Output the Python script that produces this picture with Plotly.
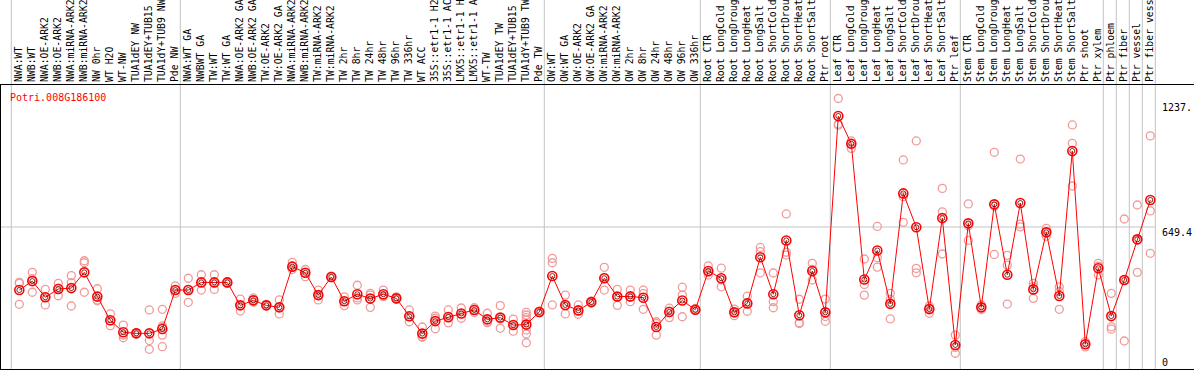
import plotly.graph_objects as go

categories = [
    "NWA:WT", "NWB:WT", "NWA:OE-ARK2", "NWB:OE-ARK2", "NWA:miRNA-ARK2", "NWB:miRNA-ARK2",
    "NW 0hr", "WT H2O", "WT-NW", "TUA1dEY NW", "TUA1dEY+TUB15", "TUA1dY+TUB9 NW", "Pde NW",
    "NWA:WT GA", "NWBWT GA", "TW:WT", "TW:WT GA", "NWA:OE-ARK2 GA", "NWB:OE-ARK2 GA",
    "TW:OE-ARK2", "TW:OE-ARK2 GA", "NWA:miRNA-ARK2", "NWB:miRNA-ARK2", "TW:miRNA-ARK2",
    "TW:miRNA-ARK2", "TW 2hr", "TW 8hr", "TW 24hr", "TW 48hr", "TW 96hr", "TW 336hr", "WT ACC",
    "35S::etr1-1 H2", "35S::etr1-1 AC", "LMX5::etr1-1 H", "LMX5::etr1-1 A", "WT-TW",
    "TUA1dEY TW", "TUA1dEY+TUB15", "TUA1dY+TUB9 TW", "Pde TW",
    "OW:WT", "OW:WT GA", "OW:OE-ARK2", "OW:OE-ARK2 GA", "OW:miRNA-ARK2", "OW:miRNA-ARK2",
    "OW 2hr", "OW 8hr", "OW 24hr", "OW 48hr", "OW 96hr", "OW 336hr",
    "Root CTR", "Root LongCold", "Root LongDroug", "Root LongHeat", "Root LongSalt",
    "Root ShortCold", "Root ShortDrou", "Root ShortHeat", "Root ShortSalt", "Ptr root",
    "Leaf CTR", "Leaf LongCold", "Leaf LongDroug", "Leaf LongHeat", "Leaf LongSalt",
    "Leaf ShortCold", "Leaf ShortDrou", "Leaf ShortHeat", "Leaf ShortSalt", "Ptr leaf",
    "Stem CTR", "Stem LongCold", "Stem LongDroug", "Stem LongHeat", "Stem LongSalt",
    "Stem ShortCold", "Stem ShortDrou", "Stem ShortHeat", "Stem ShortSalt", "Ptr shoot",
    "Ptr xylem", "Ptr phloem", "Ptr fiber", "Ptr vessel", "Ptr fiber vess",
]

mean_values = [
    361, 402, 328, 366, 370, 442, 331, 223, 168, 163, 163, 183, 361,
    361, 396, 396, 396, 291, 314, 291, 282, 468, 440, 338, 421, 310, 342, 322, 342,
    323, 241, 162, 219, 238, 254, 270, 227, 235, 201, 203, 261,
    425, 293, 268, 306, 415, 331, 332, 326, 192, 261, 313, 271,
    448, 415, 259, 300, 511, 342, 588, 246, 448, 259,
    1157, 1030, 409, 542, 298, 803, 648, 274, 690, 110,
    666, 282, 753, 431, 759, 364, 625, 334, 997, 113,
    461, 242, 407, 593, 773,
]

sample_values = [
    [396, 392, 296], [442, 413, 351], [364, 328, 293], [392, 370, 335], [427, 395, 288],
    [495, 486, 351], [367, 316, 312], [252, 220, 198], [201, 155, 143], [166, 163, 160],
    [270, 130, 90], [273, 197, 190, 155, 102], [380, 361, 346],
    [415, 363, 305], [431, 396, 361], [431, 394, 364], [400, 396, 392], [320, 292, 265],
    [325, 315, 305], [296, 293, 289], [316, 282, 252], [488, 470, 455], [455, 440, 422],
    [361, 338, 316], [425, 421, 417], [330, 310, 290], [383, 325, 316], [346, 338, 282],
    [361, 335, 331], [330, 323, 318], [270, 240, 216], [192, 148, 145], [242, 232, 184],
    [270, 232, 211], [279, 252, 232], [280, 270, 258], [255, 215, 212], [290, 229, 186],
    [228, 202, 173], [259, 247, 235, 224, 178, 160, 120], [265, 261, 257],
    [506, 486, 293], [338, 290, 252], [293, 268, 250], [310, 306, 302], [465, 419, 361],
    [364, 331, 291], [361, 329, 308], [361, 345, 273], [216, 208, 155], [278, 265, 235],
    [374, 338, 239], [277, 273, 268],
    [472, 442, 430], [461, 408, 376], [274, 259, 244], [333, 303, 264], [556, 537, 440],
    [439, 308, 280], [709, 534, 521], [319, 212, 208], [483, 455, 407], [320, 240, 218],
    [1237, 1120, 1115], [1043, 1030, 1009], [503, 387, 338], [652, 509, 466], [346, 318, 229],
    [956, 788, 671], [1043, 460, 440], [288, 276, 255], [826, 719, 526], [155, 99, 72],
    [755, 655, 588], [293, 282, 272], [991, 744, 524], [520, 475, 297], [960, 663, 650],
    [392, 377, 323], [643, 625, 607], [376, 354, 273], [1116, 1032, 837], [125, 113, 101],
    [483, 470, 430], [346, 193, 182], [686, 407, 128], [750, 590, 442], [1066, 723, 529],
]

# group boundaries: separator after these category indices
group_ends = [-1, 12, 40, 52, 62, 72, 83, 84, 85, 86, 87]

gene_id = "Potri.008G186100"
y_max = 1298.8
y_mid = 649.4
y_top_label = "1237."

FONT = "DejaVu Sans Mono"
W, H = 1194, 370

idx = list(range(len(categories)))
sx, sy = [], []
for k, vals in enumerate(sample_values):
    for v in vals:
        sx.append(k)
        sy.append(v)

fig = go.Figure()
fig.add_trace(go.Scatter(
    x=sx, y=sy, mode="markers",
    marker=dict(symbol="circle-open", size=8, color="#f09a9a", line=dict(width=1.3)),
    hoverinfo="skip", showlegend=False,
))
fig.add_trace(go.Scatter(
    x=idx, y=mean_values, mode="lines+markers",
    line=dict(color="#ff0000", width=1),
    marker=dict(symbol="circle-open", size=9, color="#ff0000", line=dict(width=1.6)),
    showlegend=False,
))
fig.add_trace(go.Scatter(
    x=idx, y=mean_values, mode="markers",
    marker=dict(symbol="circle-open", size=5, color="#550000", line=dict(width=0.8)),
    hoverinfo="skip", showlegend=False,
))

# pixel geometry: category k at px 19.3 + 13k, plot spans px 1..1194
x0 = (1 - 19.3) / 13
x1 = (W - 19.3) / 13

shapes = []
for g in group_ends:
    xs = g + 0.385
    shapes.append(dict(type="line", xref="x", yref="paper", x0=xs, x1=xs,
                       y0=0, y1=369 / 284, line=dict(color="#c4c4c4", width=1),
                       layer="below"))
shapes.append(dict(type="line", xref="x", yref="y", x0=x0, x1=group_ends[-1] + 0.385,
                   y0=y_mid, y1=y_mid, line=dict(color="#c4c4c4", width=1), layer="below"))

ann = [
    dict(text=gene_id, xref="paper", yref="paper", x=7 / (W - 1), y=(369 - 97) / 284,
         xanchor="left", yanchor="middle", showarrow=False,
         font=dict(family=FONT, size=10, color="#ff0000")),
]
right_x = (1160 - 1) / (W - 1)
for txt, ypx in [(y_top_label, 107), (f"{y_mid:.1f}", 232.5), ("0", 362.5)]:
    ann.append(dict(text=txt, xref="paper", yref="paper", x=right_x, y=(369 - ypx) / 284,
                    xanchor="left", yanchor="middle", showarrow=False,
                    font=dict(family=FONT, size=10, color="#000000")))

fig.update_layout(
    width=W, height=H,
    margin=dict(l=1, r=0, t=85, b=1, autoexpand=False),
    paper_bgcolor="white", plot_bgcolor="white",
    showlegend=False,
    shapes=shapes, annotations=ann,
    xaxis=dict(
        range=[x0, x1], side="top", tickmode="array", tickvals=idx, ticktext=categories,
        tickangle=-90, ticks="", showgrid=False, zeroline=False,
        showline=True, mirror=True, linecolor="black", linewidth=1,
        tickfont=dict(family=FONT, size=9.8, color="black"), automargin=False,
        ticklabelstandoff=0,
    ),
    yaxis=dict(
        range=[0, y_max], showticklabels=False, showgrid=False, zeroline=False,
        showline=True, linecolor="black", linewidth=1, ticks="", automargin=False,
    ),
)

fig.write_html("out.html", config={"displayModeBar": False},
               post_script="document.body.style.margin='0';")
